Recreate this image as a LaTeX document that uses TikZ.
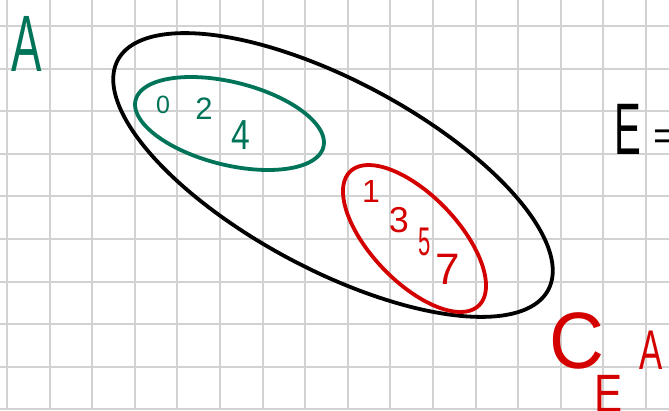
\documentclass[tikz,border=0pt]{standalone}
\usepackage{fontspec}
\setmainfont{Liberation Sans}
\definecolor{gridc}{RGB}{210,210,210}
\definecolor{grn}{RGB}{0,116,88}
\definecolor{rd}{RGB}{212,0,0}
\tikzset{
  gridline/.style={draw=gridc, line width=2pt},
  curve/.style={line width=3.8pt, line cap=round, line join=round},
  lbl/.style={inner sep=0pt, anchor=center},
}
\newcommand{\fs}[1]{\fontsize{#1}{#1}\selectfont}
% rotated ellipse: cx, cy, a, b, angle (screen, clockwise)
\newcommand{\rotell}[6]{%
  \draw[#1] plot[domain=0:360, samples=120, smooth cycle]
   ({#2 + #4*cos(\x)*cos(#6) - #5*sin(\x)*sin(#6)},
    {#3 + #4*cos(\x)*sin(#6) + #5*sin(\x)*cos(#6)});}
\begin{document}
\begin{tikzpicture}[x=1pt,y=-1pt]
\useasboundingbox (0,0) rectangle (669,410);
\clip (0,0) rectangle (669,410);
\fill[white] (0,0) rectangle (669,410);
% grid
\foreach \k in {0,...,15} {
  \draw[gridline] ({7+42.6*\k},0) -- ({7+42.6*\k},410);
}
\foreach \k in {0,...,9} {
  \draw[gridline] (0,{26+42.6*\k}) -- (669,{26+42.6*\k});
}
% big set E
\rotell{curve, black}{333}{175}{244}{94.4}{28.1}
% set A
\rotell{curve, grn}{229.5}{123.5}{96.8}{41.4}{14}
% complement of A in E
\rotell{curve, rd}{414.5}{238.5}{92.9}{43.4}{46.2}
% labels
\node[lbl, text=grn] (lA) at (27,43.5) {\fs{80}\scalebox{0.57}[1]{A}};
\node[lbl, text=grn] (n0) at (163,105) {\fs{25}0};
\node[lbl, text=grn] (n2) at (204,109) {\fs{31}2};
\node[lbl, text=grn] (n4) at (241,135) {\fs{42}\scalebox{0.8}[1]{4}};
\node[lbl, text=rd] (n1) at (371,191) {\fs{32}1};
\node[lbl, text=rd] (n3) at (399,220) {\fs{36}3};
\node[lbl, text=rd] (n5) at (425,242) {\fs{40}\scalebox{0.55}[1]{5}};
\node[lbl, text=rd] (n7) at (448,269) {\fs{44}7};
\node[lbl, text=black] (lE) at (628,129) {\fs{73}\scalebox{0.55}[1]{E}};
\node[lbl, text=black, anchor=west] (eq) at (653,140) {\fs{40}=};
\node[lbl, text=rd] (lC) at (577,341) {\fs{80}\scalebox{0.95}[1]{C}};
\node[lbl, text=rd] (lEs) at (609,394) {\fs{54}\scalebox{0.78}[1]{E}};
\node[lbl, text=rd] (lAs) at (651,350) {\fs{56}\scalebox{0.62}[1]{A}};
\end{tikzpicture}
\end{document}
